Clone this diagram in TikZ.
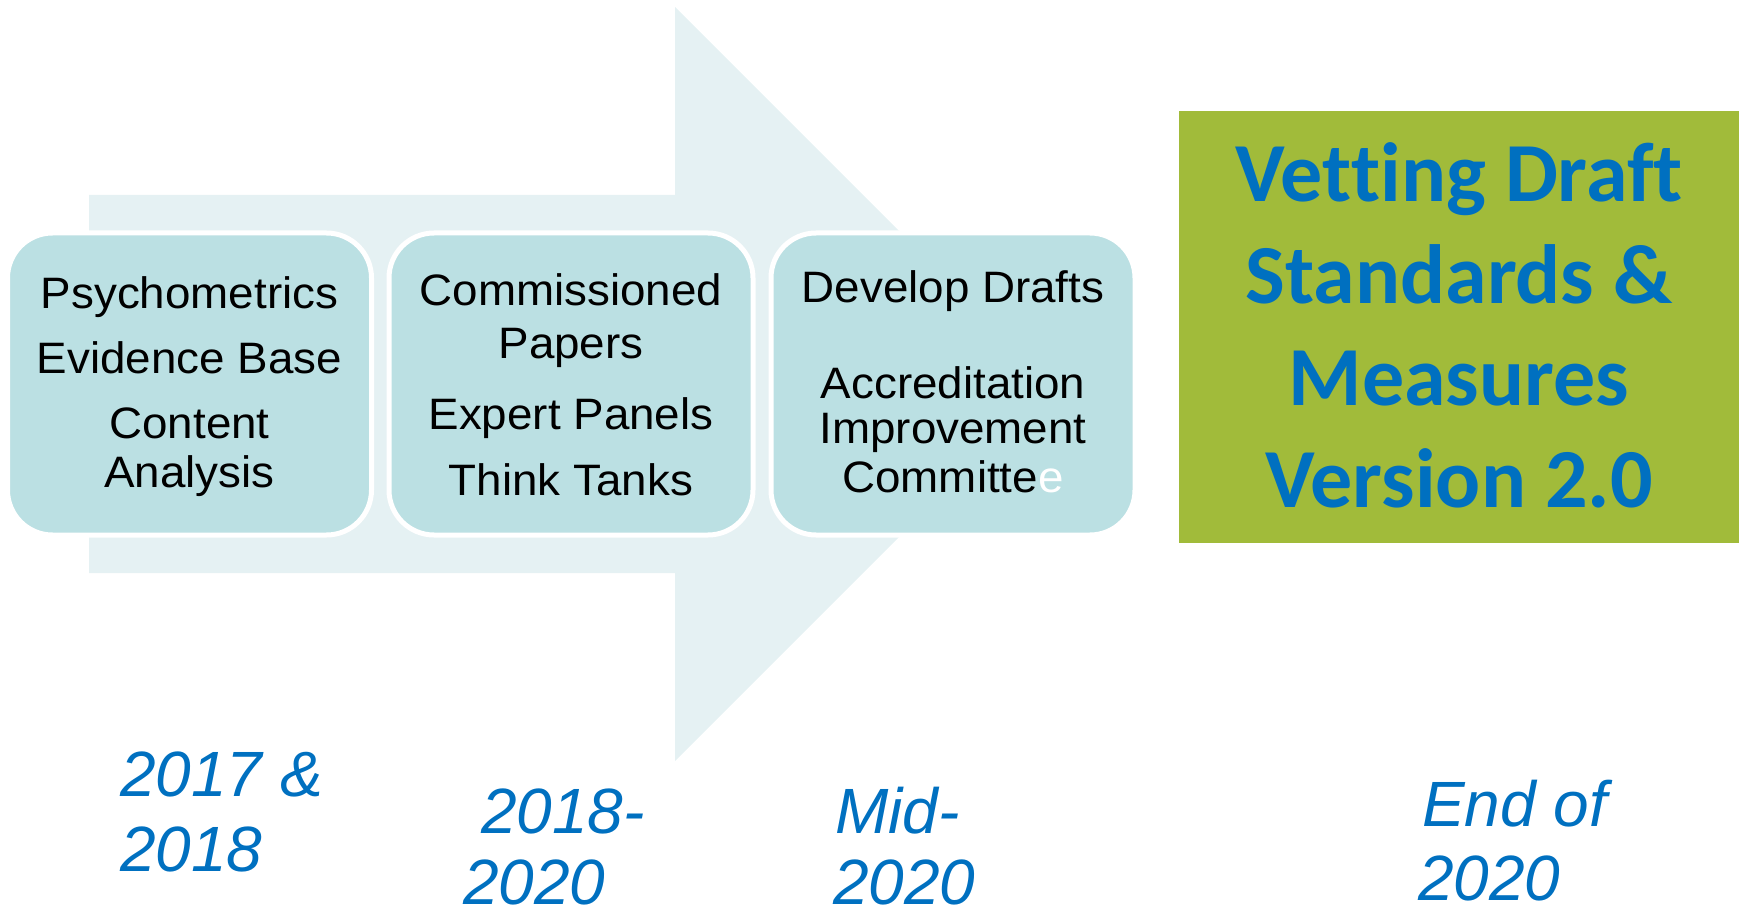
\documentclass[tikz,border=0pt]{standalone}
\usepackage{fontspec}
\setmainfont{Liberation Sans}
\newfontfamily\boxfont[FakeStretch=1.04]{Liberation Sans}
\newfontfamily\titlefont[Ligatures=NoCommon]{Carlito}
\definecolor{arrowfill}{HTML}{E5F1F3}
\definecolor{boxfill}{HTML}{BBE0E3}
\definecolor{greenfill}{HTML}{A1BB3A}
\definecolor{blueText}{HTML}{0070C0}
\begin{document}
\begin{tikzpicture}[x=1pt,y=-1pt,
  stagebox/.style={rectangle, minimum width=364pt, minimum height=302pt, rounded corners=45pt, fill=boxfill, draw=white, line width=5pt, inner sep=0pt},
  boxtext/.style={anchor=base, align=center, inner sep=0pt, font=\boxfont\fontsize{44}{49}\selectfont, text=black},
  yeartext/.style={anchor=base west, align=left, inner sep=0pt, font=\fontsize{64}{74}\selectfont\itshape, text=blueText},
  resultbox/.style={rectangle, minimum width=560pt, minimum height=432pt, fill=greenfill, inner sep=0pt},
  resulttext/.style={anchor=base, align=center, inner sep=0pt, font=\titlefont\bfseries\fontsize{84}{102}\selectfont, text=blueText}
]
\useasboundingbox (0,0) rectangle (1746,909);
% big background arrow
\fill[arrowfill] (89,195) -- (675,195) -- (675,7) -- (1052,384) -- (675,761) -- (675,573) -- (89,573) -- cycle;
% stage boxes
\node[stagebox] (s1) at (189.5,384) {};
\node[stagebox] (s2) at (571,384) {};
\node[stagebox] (s3) at (953,384) {};
% multi-line nodes: base anchor = baseline of the last line
\node[boxtext] (t1) at (189.5,487) {Psychometrics\\[16pt]Evidence Base\\[16pt]Content\\Analysis};
\node[boxtext] (t2) at (571,495) {Commissioned\\[4pt]Papers\\[22pt]Expert Panels\\[17pt]Think Tanks};
\node[boxtext] (t3) at (953,492) {Develop Drafts\\[47pt]Accreditation\\[-4pt]Improvement\\Committe{\color{white}e}};
% result box
\node[resultbox] (r) at (1459,327) {};
\node[resulttext] (rt) at (1459,507) {Vet\kern0ptt\kern0pting Draft\\Standards \&\\Measures\\Version 2.0};
% years
\node[yeartext] (y1) at (120,871) {2017 \&\\[1pt]2018};
\node[yeartext] (y2) at (463,904) {\hspace*{18pt}2018-\\[-3pt]2020};
\node[yeartext] (y3) at (833,904) {\hspace*{2pt}Mid-\\[-3pt]2020};
\node[yeartext] (y4) at (1418,900) {\hspace*{4pt}End of\\2020};
\end{tikzpicture}
\end{document}
